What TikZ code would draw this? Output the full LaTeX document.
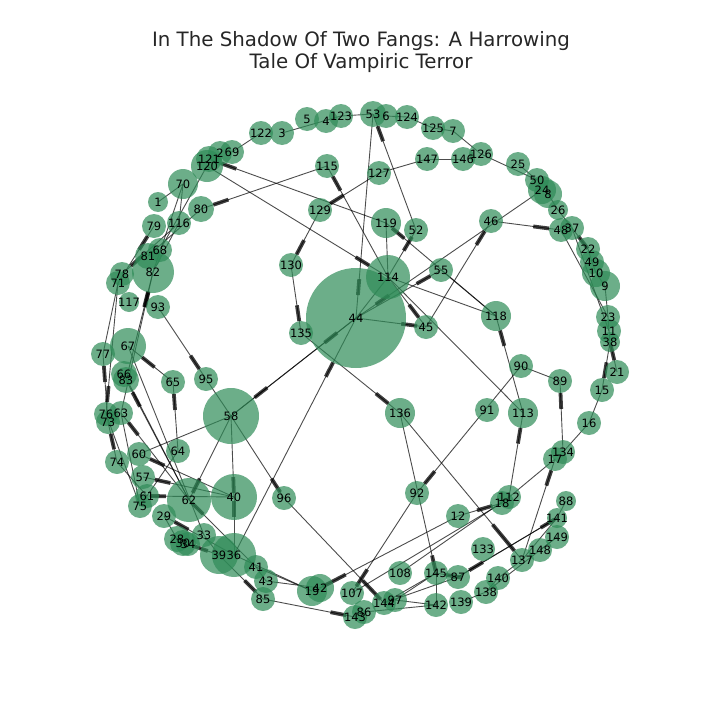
\documentclass[tikz,border=0pt]{standalone}
\usepackage{fontspec}
\setmainfont{DejaVu Sans}
\usetikzlibrary{calc,backgrounds}
\definecolor{ng}{RGB}{46,139,87}
\definecolor{tt}{RGB}{38,38,38}
\newcommand\mknode[4]{\node[dot,minimum size={2*#4pt}] (n#1) at (#2,#3) {};}
\newcommand\mklab[1]{\node[lab] (l#1) at (n#1) {#1};}
\newcommand\edg[2]{\draw[edge] (n#1.center) -- (n#2.center);}
\newcommand\arwl[4]{\pgfmathsetmacro\tipend{#3+#4}\draw[edge] (n#1.center) -- (n#2.center);\draw[barstyle] ($(n#2.center)!#3pt!(n#1.center)$) -- ($(n#2.center)!\tipend pt!(n#1.center)$);}
\newcommand\arw[3]{\arwl{#1}{#2}{#3}{16}}
\begin{document}
\begin{tikzpicture}[x=1pt,y=-1pt,
  dot/.style={circle,fill=ng,fill opacity=0.7,draw=none,inner sep=0pt},
  lab/.style={font=\fontsize{11.5}{13}\selectfont,text=black,inner sep=0pt},
  edge/.style={draw=black,draw opacity=0.7,line width=0.9pt},
  barstyle/.style={draw=black,draw opacity=0.75,line width=3.8pt},
  title/.style={font=\fontsize{19.8}{23}\selectfont,text=tt,inner sep=0pt}]
\useasboundingbox (0,0) rectangle (720,720);
\node[title,anchor=base] (t1) at (361,46) {In The Shadow Of Two Fangs: A Harrowing};
\node[title,anchor=base] (t2) at (361,68) {Tale Of Vampiric Terror};
% nodes
\mknode{1}{158}{202}{10}
\mknode{2}{220}{153}{12}
\mknode{3}{282}{133}{12}
\mknode{4}{326}{121}{12}
\mknode{5}{307}{119}{12}
\mknode{6}{386}{116}{12}
\mknode{7}{453}{131}{12}
\mknode{8}{548}{194}{14}
\mknode{9}{605}{286}{15}
\mknode{10}{596}{273}{14}
\mknode{11}{609}{331}{12}
\mknode{12}{458}{516}{12}
\mknode{15}{602}{390}{12}
\mknode{16}{589}{423}{12}
\mknode{17}{555}{459}{12}
\mknode{18}{502}{503}{12}
\mknode{19}{312}{591}{15}
\mknode{21}{617}{372}{12}
\mknode{22}{588}{249}{12}
\mknode{23}{608}{317}{12}
\mknode{24}{542}{190}{14}
\mknode{25}{518}{164}{12}
\mknode{26}{558}{210}{10}
\mknode{28}{177}{539}{13}
\mknode{29}{164}{516}{12}
\mknode{30}{183}{543}{13}
\mknode{33}{204}{535}{12}
\mknode{34}{188}{544}{12}
\mknode{36}{234}{555}{22}
\mknode{37}{572}{228}{12}
\mknode{38}{610}{342}{10}
\mknode{39}{219}{555}{19}
\mknode{40}{234}{497}{23}
\mknode{41}{256}{567}{12}
\mknode{42}{320}{588}{14}
\mknode{43}{266}{581}{12}
\mknode{44}{356}{318}{50}
\mknode{45}{426}{327}{12}
\mknode{46}{491}{221}{12}
\mknode{48}{561}{230}{12}
\mknode{49}{592}{262}{12}
\mknode{50}{537}{180}{12}
\mknode{52}{416}{230}{12}
\mknode{53}{373}{114}{13}
\mknode{55}{441}{270}{12}
\mknode{57}{143}{477}{12}
\mknode{58}{231}{416}{28}
\mknode{60}{139}{454}{12}
\mknode{61}{147}{496}{12}
\mknode{62}{189}{500}{22}
\mknode{63}{121}{413}{12}
\mknode{64}{178}{451}{12}
\mknode{65}{173}{382}{12}
\mknode{66}{124}{374}{13}
\mknode{67}{128}{346}{18}
\mknode{68}{160}{250}{12}
\mknode{69}{232}{152}{12}
\mknode{70}{183}{184}{15}
\mknode{71}{118}{283}{12}
\mknode{73}{108}{422}{12}
\mknode{74}{117}{462}{12}
\mknode{75}{140}{506}{12}
\mknode{76}{106}{414}{12}
\mknode{77}{103}{354}{12}
\mknode{78}{122}{274}{12}
\mknode{79}{154}{226}{12}
\mknode{80}{201}{209}{13}
\mknode{81}{148}{256}{13}
\mknode{82}{153}{272}{21}
\mknode{83}{126}{380}{13}
\mknode{85}{263}{599}{12}
\mknode{86}{364}{612}{12}
\mknode{87}{458}{577}{12}
\mknode{88}{566}{501}{10}
\mknode{89}{560}{381}{12}
\mknode{90}{521}{366}{12}
\mknode{91}{487}{410}{12}
\mknode{92}{417}{493}{12}
\mknode{93}{158}{307}{12}
\mknode{95}{206}{379}{12}
\mknode{96}{284}{498}{12}
\mknode{97}{395}{600}{12}
\mknode{107}{352}{593}{12}
\mknode{108}{400}{573}{12}
\mknode{112}{509}{497}{12}
\mknode{113}{523}{413}{15}
\mknode{114}{388}{277}{22}
\mknode{115}{327}{166}{12}
\mknode{116}{179}{223}{12}
\mknode{117}{129}{302}{10}
\mknode{118}{496}{316}{15}
\mknode{119}{386}{223}{15}
\mknode{120}{207}{166}{16}
\mknode{121}{209}{159}{13}
\mknode{122}{261}{133}{12}
\mknode{123}{341}{116}{12}
\mknode{124}{407}{117}{12}
\mknode{125}{433}{128}{12}
\mknode{126}{481}{154}{12}
\mknode{127}{379}{173}{12}
\mknode{129}{320}{210}{12}
\mknode{130}{291}{265}{12}
\mknode{133}{483}{549}{12}
\mknode{134}{563}{452}{12}
\mknode{135}{301}{333}{12}
\mknode{136}{400}{413}{15}
\mknode{137}{522}{560}{12}
\mknode{138}{486}{592}{12}
\mknode{139}{461}{602}{12}
\mknode{140}{498}{578}{12}
\mknode{141}{557}{518}{10}
\mknode{142}{436}{605}{12}
\mknode{143}{355}{617}{12}
\mknode{144}{384}{603}{12}
\mknode{145}{436}{573}{12}
\mknode{146}{463}{159}{12}
\mknode{147}{427}{159}{12}
\mknode{148}{540}{550}{12}
\mknode{149}{557}{537}{12}
% labels
\foreach \i in {1,2,3,4,5,6,7,8,9,10,11,12,15,16,17,18,19,21,22,23,24,25,26,28,29,30,33,34,36,37,38,39,40,41,42,43,44,45,46,48,49,50,52,53,55,57,58,60,61,62,63,64,65,66,67,68,69,70,71,73,74,75,76,77,78,79,80,81,82,83,85,86,87,88,89,90,91,92,93,95,96,97,107,108,112,113,114,115,116,117,118,119,120,121,122,123,124,125,126,127,129,130,133,134,135,136,137,138,139,140,141,142,143,144,145,146,147,148,149}{\mklab{\i}}
% edges
\begin{pgfonlayer}{background}
\edg{122}{69}\edg{3}{123}\edg{123}{53}\edg{6}{124}\edg{124}{125}\edg{125}{7}
\edg{7}{126}\edg{126}{50}\edg{25}{50}\edg{147}{146}\edg{127}{147}
\arw{127}{129}{12}\arw{129}{130}{12}\arw{130}{135}{12}\arw{135}{136}{15}
\arw{115}{80}{13}\arw{114}{115}{12}\arw{119}{121}{13}\arw{120}{114}{22}
\arw{53}{44}{23}\arw{52}{53}{13}\arw{114}{52}{8}\arw{118}{119}{8}
\arw{114}{45}{12}\arw{44}{45}{9}\arw{45}{46}{12}\arw{46}{48}{12}
\arw{24}{44}{24}\arw{44}{55}{12}\edg{55}{118}\edg{114}{118}\edg{114}{113}
\arw{113}{118}{15}\arw{112}{113}{15}\edg{119}{114}\edg{114}{44}
\edg{90}{89}\arw{90}{92}{12}\arw{134}{89}{12}\edg{134}{16}\edg{16}{15}
\arw{38}{15}{12}\arw{38}{21}{12}
\edg{8}{26}\edg{26}{37}\arw{22}{37}{10}\edg{48}{23}\edg{37}{11}\edg{22}{49}
\edg{49}{10}\edg{10}{9}\edg{9}{23}\edg{23}{11}\edg{11}{38}
\edg{1}{70}\edg{70}{116}\edg{70}{82}\edg{120}{68}\edg{116}{82}\edg{80}{81}
\arw{71}{79}{12}\arw{116}{78}{12}\edg{71}{77}\arw{71}{76}{12}\arw{73}{77}{12}
\arw{63}{82}{20}\arw{83}{82}{20}\arw{65}{67}{18}\arw{93}{95}{12}\edg{95}{58}
\arw{64}{65}{12}\edg{58}{60}\arw{40}{60}{12}
\arw{58}{40}{4}\arw{36}{40}{4}\arw{58}{62}{8}\arw{41}{62}{4}\arw{62}{63}{12}
\arw{40}{61}{3}\arw{40}{57}{12}\arw{62}{83}{14}\edg{67}{33}
\arw{74}{73}{12}\edg{76}{75}\edg{74}{61}\edg{63}{75}\edg{64}{75}\edg{66}{62}
\arw{58}{96}{7}\arw{44}{58}{30}\arw{58}{44}{24}\arw{36}{44}{50}
\arw{39}{85}{10}\arw{85}{143}{9}\arw{39}{34}{5}\arw{36}{29}{12}
\edg{29}{28}\edg{33}{39}\edg{41}{43}\edg{41}{19}\edg{43}{42}\edg{36}{19}
\arwl{12}{42}{3}{26}\arwl{92}{107}{8}{20}\arwl{96}{144}{5}{26}
\edg{107}{18}\edg{108}{112}\arw{12}{18}{10}\arw{136}{145}{2}
\edg{145}{142}\edg{97}{145}\edg{144}{145}\edg{97}{142}\edg{144}{87}
\arw{87}{145}{10}\arw{141}{87}{13}\arw{87}{141}{3}\arwl{136}{137}{12}{34}
\arw{137}{17}{12}\edg{18}{17}\edg{137}{140}\edg{140}{138}\edg{138}{139}
\edg{149}{138}\edg{141}{137}\edg{88}{141}\edg{148}{149}\edg{86}{142}
\end{pgfonlayer}
\end{tikzpicture}
\end{document}
